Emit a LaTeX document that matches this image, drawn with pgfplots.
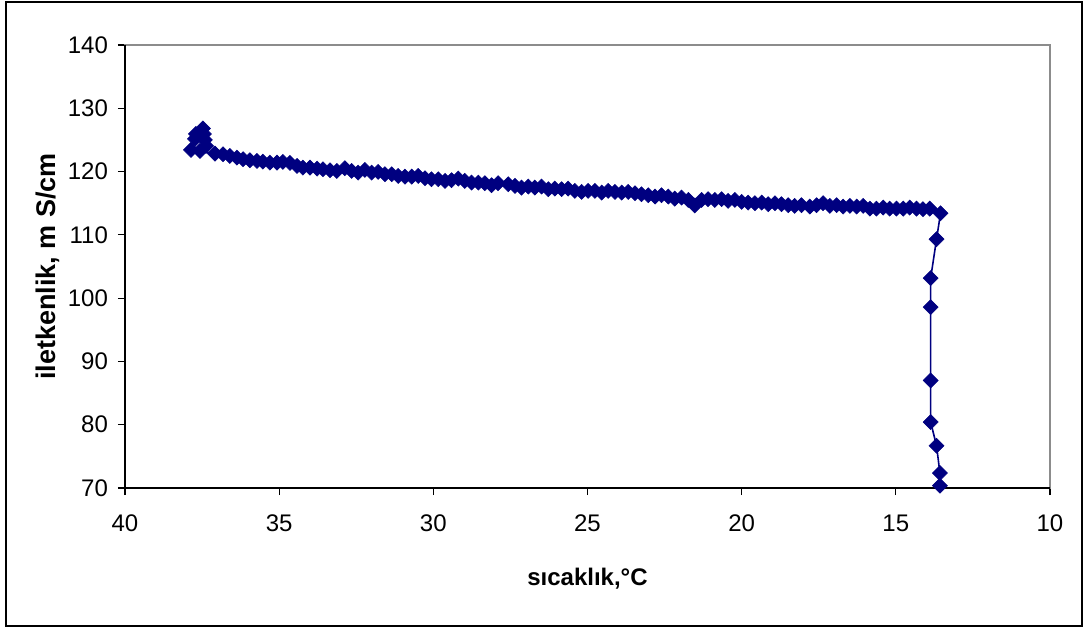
\documentclass[border=0pt]{standalone}
\usepackage{pgfplots}
\pgfplotsset{compat=1.18}
\usepackage{fontspec}
\setmainfont{Liberation Sans}
\definecolor{navy}{RGB}{0,0,128}
\begin{document}
\begin{tikzpicture}
\path (0,0) rectangle (542.5pt,314pt);
\draw[line width=0.7pt] (3pt,1pt) rectangle (541pt,313pt);
\begin{axis}[
 at={(62.5pt,70pt)}, anchor=south west,
 width=462.5pt, height=221.5pt, scale only axis,
 x dir=reverse, xmin=10, xmax=40, ymin=70, ymax=140,
 xtick={10,15,...,40}, ytick={70,80,...,140},
 tick align=outside, tick pos=left, major tick length=3.5pt,
 axis line style={draw=black!45, line width=0.6pt},
 tick style={black, line width=0.6pt},
 ticklabel style={font=\fontsize{12}{14}\selectfont},
 xticklabel style={yshift=-6.5pt},
 yticklabel style={xshift=-1.5pt},
 xlabel={sıcaklık,°C}, ylabel={iletkenlik, m S/cm},
 every axis x label/.style={at={(axis description cs:0.5,-0.219)}, anchor=base, font=\bfseries\fontsize{12}{14}\selectfont},
 every axis y label/.style={at={(axis description cs:-0.083,0.5)}, anchor=center, rotate=90, font=\bfseries\fontsize{13.5}{15}\selectfont},
 clip=false,
 /pgf/number format/assume math mode=true,
]
\addplot[color=navy, line width=0.8pt, mark=square*, mark size=2.65pt, mark options={fill=navy,draw=navy,rotate=45,line width=0.3pt}] table {
T C
37.86 123.42
37.73 125.16
37.70 125.95
37.47 126.82
37.44 125.95
37.41 125.00
37.37 124.05
37.57 123.26
37.08 122.84
36.82 122.74
36.60 122.47
36.37 122.21
36.17 121.95
35.95 121.79
35.72 121.68
35.53 121.57
35.30 121.41
35.07 121.41
34.88 121.53
34.65 121.37
34.42 120.89
34.23 120.63
34.00 120.63
33.77 120.47
33.58 120.37
33.35 120.21
33.13 120.10
32.87 120.53
32.65 120.10
32.44 119.84
32.22 120.26
32.00 119.84
31.79 119.95
31.57 119.58
31.35 119.58
31.14 119.31
30.92 119.20
30.70 119.20
30.49 119.31
30.27 118.95
30.06 118.79
29.84 118.79
29.62 118.53
29.41 118.64
29.19 118.89
28.98 118.53
28.76 118.26
28.54 118.26
28.33 118.16
28.11 117.85
27.90 118.16
27.57 118.01
27.35 117.74
27.14 117.47
26.92 117.63
26.71 117.47
26.49 117.63
26.27 117.22
26.06 117.31
25.84 117.22
25.63 117.31
25.41 116.95
25.19 116.79
24.98 116.95
24.76 116.95
24.54 116.68
24.33 116.95
24.11 116.79
23.89 116.68
23.68 116.79
23.46 116.58
23.25 116.42
23.03 116.27
22.81 116.05
22.60 116.27
22.38 116.05
22.17 115.73
21.95 115.89
21.73 115.52
21.52 114.65
21.30 115.52
21.09 115.64
20.87 115.52
20.65 115.64
20.44 115.37
20.22 115.52
20.00 115.21
19.79 115.10
19.57 115.00
19.35 115.10
19.14 114.85
18.92 115.00
18.71 114.85
18.49 114.69
18.28 114.58
18.06 114.69
17.79 114.47
17.57 114.69
17.36 115.00
17.14 114.58
16.92 114.69
16.71 114.47
16.49 114.58
16.27 114.47
16.06 114.58
15.84 114.15
15.63 114.15
15.41 114.31
15.20 114.15
14.98 114.15
14.76 114.15
14.55 114.31
14.33 114.15
14.12 114.06
13.90 114.15
13.55 113.42
13.68 109.32
13.87 103.16
13.87 98.58
13.87 86.99
13.87 80.42
13.68 76.68
13.57 72.37
13.57 70.36
};
\draw[black, line width=0.6pt] (axis description cs:0,1) -- (axis description cs:0,0) -- (axis description cs:1,0);
\end{axis}
\end{tikzpicture}
\end{document}
